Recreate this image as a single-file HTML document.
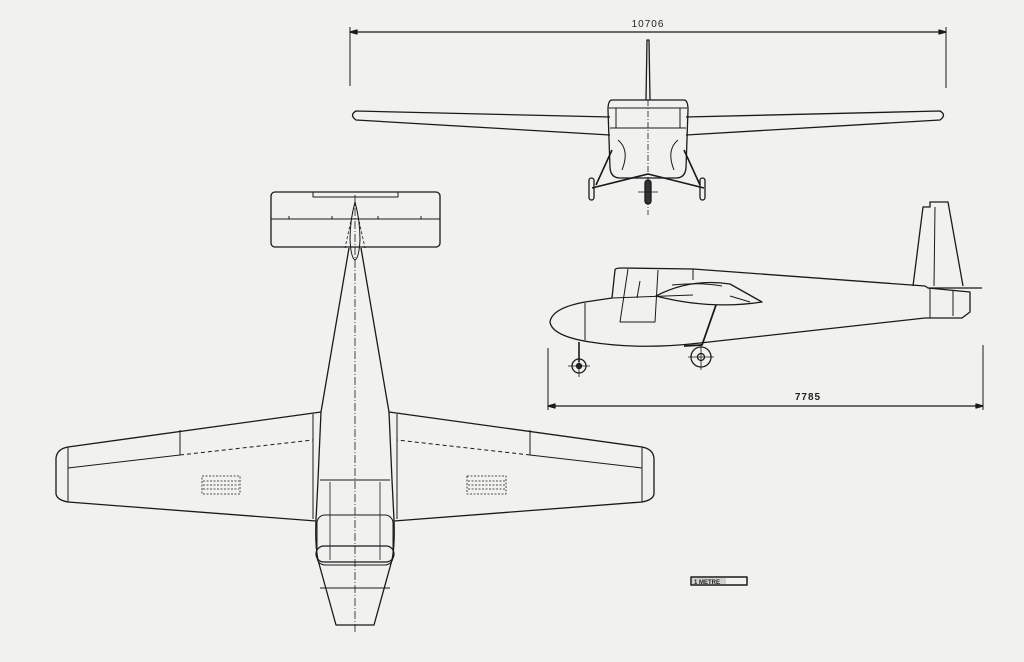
<!DOCTYPE html>
<html><head><meta charset="utf-8"><style>
html,body{margin:0;padding:0;background:#f1f1ef;}
svg{display:block;}
text{font-family:"Liberation Sans",sans-serif;fill:#222;}
</style></head><body>
<svg width="1024" height="662" viewBox="0 0 1024 662" xmlns="http://www.w3.org/2000/svg">
<rect width="1024" height="662" fill="#f1f1ef"/>
<g fill="none" stroke="#1a1a1a" stroke-width="1.3" stroke-linejoin="round">

<!-- FRONT VIEW -->
<line x1="350" y1="32" x2="946" y2="32"/>
<line x1="350" y1="27" x2="350" y2="86" stroke-width="1"/>
<line x1="946" y1="27" x2="946" y2="88" stroke-width="1"/>
<path d="M350 32 l7 -2 v4 z M946 32 l-7 -2 v4 z" fill="#1a1a1a"/>
<path d="M646 100 L647 40 L649 40 L650 100"/>
<path d="M610 117 L356 111 Q349 115 356 120 L610 135"/>
<path d="M686 117 L940 111 Q947 115 940 120 L686 135"/>
<path d="M612 100 Q608 100 608 110 L610 168 Q611 178 620 178 L676 178 Q685 178 686 168 L688 110 Q688 100 684 100 Z"/>
<line x1="609" y1="108" x2="687" y2="108" stroke-width="1"/>
<line x1="610" y1="128" x2="686" y2="128" stroke-width="1"/>
<line x1="616" y1="108" x2="616" y2="128" stroke-width="1"/>
<line x1="680" y1="108" x2="680" y2="128" stroke-width="1"/>
<path d="M618 140 Q630 150 622 170 M678 140 Q666 150 674 170" stroke-width="1"/>
<line x1="648" y1="100" x2="648" y2="215" stroke-width="0.8" stroke-dasharray="6 2 1 2"/>
<path d="M612 150 L596 185 M684 150 L700 185 M592 188 L648 174 L704 188" stroke-width="1.6"/>
<rect x="589" y="178" width="5" height="22" rx="2.5"/>
<rect x="700" y="178" width="5" height="22" rx="2.5"/>
<rect x="645" y="180" width="6" height="24" rx="3" fill="#333"/>
<path d="M638 192 h20" stroke-width="0.8"/>

<!-- SIDE VIEW -->
<path d="M615 270 Q615 268 622 268 L693 269 L925 286 L928 288 L970 292 L970 312 L962 318 L925 318 L700 343 Q640 350 590 342 Q552 336 550 322 Q552 308 585 302 L612 298 Z"/>
<line x1="585" y1="303" x2="585" y2="340" stroke-width="1"/>
<line x1="612" y1="298" x2="693" y2="295" stroke-width="1"/>
<path d="M628 269 L620 322 L655 322 L658 270" stroke-width="1"/>
<line x1="640" y1="281" x2="637" y2="298" stroke-width="1"/>
<line x1="693" y1="269" x2="693" y2="280" stroke-width="1"/>
<path d="M656 296 Q690 278 730 284 L762 302 Q710 310 656 296 Z"/>
<path d="M672 285 Q700 282 722 286 M730 296 L750 302" stroke-width="1"/>
<!-- fin -->
<path d="M913 286 L923 207 L930 207 L930 202 L948 202 L963 286"/>
<line x1="935" y1="207" x2="934" y2="286" stroke-width="1"/>
<line x1="928" y1="288" x2="982" y2="288"/>
<line x1="930" y1="288" x2="930" y2="318" stroke-width="1"/>
<line x1="953" y1="290" x2="953" y2="316" stroke-width="1"/>
<path d="M716 305 L702 345 L684 346" stroke-width="1.8"/>
<circle cx="701" cy="357" r="10"/>
<circle cx="701" cy="357" r="3.5"/>
<path d="M688 357 h26 M701 344 v26" stroke-width="0.8"/>
<line x1="579" y1="342" x2="579" y2="362" stroke-width="1.6"/>
<circle cx="579" cy="366" r="7"/>
<circle cx="579" cy="366" r="2.5" fill="#333"/>
<path d="M568 366 h22 M579 355 v22" stroke-width="0.8"/>
<line x1="548" y1="406" x2="983" y2="406"/>
<line x1="548" y1="348" x2="548" y2="410" stroke-width="1"/>
<line x1="983" y1="345" x2="983" y2="410" stroke-width="1"/>
<path d="M548 406 l7 -2 v4 z M983 406 l-7 -2 v4 z" fill="#1a1a1a"/>

<!-- TOP VIEW -->
<rect x="271" y="192" width="169" height="55" rx="4"/>
<rect x="313" y="192" width="85" height="5" stroke-width="1"/>
<line x1="271" y1="219" x2="440" y2="219" stroke-width="1"/>
<path d="M289 219 v-3 M332 219 v-3 M378 219 v-3 M421 219 v-3" stroke-width="1"/>
<path d="M355 202 Q350 220 350 240 Q351 258 355 260 Q359 258 360 240 Q360 220 355 202 Z" stroke-width="1"/>
<path d="M355 202 L345 248 M355 202 L365 248" stroke-width="0.8" stroke-dasharray="3 2"/>
<path d="M349 248 L321 412 L318 480 L316 520 Q315 545 318 560 L336 625 L374 625 L392 560 Q395 545 394 520 L392 480 L389 412 L361 248"/>
<line x1="320" y1="480" x2="390" y2="480" stroke-width="1"/>
<line x1="320" y1="588" x2="390" y2="588" stroke-width="1"/>
<rect x="317" y="515" width="76" height="50" rx="8" stroke-width="1"/>
<rect x="316" y="546" width="78" height="16" rx="8" stroke-width="1.2"/>
<path d="M330 482 V560 M380 482 V560" stroke-width="0.8"/>
<line x1="355" y1="195" x2="355" y2="632" stroke-width="0.8" stroke-dasharray="8 2 1 2"/>
<path d="M321 412 L68 447 Q57 449 56 458 L56 494 Q57 500 68 502 L316 521"/>
<path d="M389 412 L642 447 Q653 449 654 458 L654 494 Q653 500 642 502 L394 521"/>
<path d="M68 447 V502 M642 447 V502" stroke-width="1"/>
<path d="M180 430 V455 L68 468 V464" stroke-width="1"/>
<path d="M530 430 V455 L642 468 V464" stroke-width="1"/>
<path d="M180 455 L313 440 M530 455 L397 440" stroke-width="1" stroke-dasharray="4 3"/>
<path d="M313 414 V519 M397 414 V519" stroke-width="1"/>
<g stroke-width="0.8" stroke-dasharray="2 1.5">
<rect x="202" y="476" width="38" height="18"/>
<path d="M203 481 h36 M203 485 h36 M203 489 h36"/>
<rect x="467" y="476" width="39" height="18"/>
<path d="M468 481 h37 M468 485 h37 M468 489 h37"/>
</g>
<rect x="691" y="577" width="56" height="8" stroke-width="1.5"/>
<rect x="692" y="578" width="34" height="6" fill="#1a1a1a" stroke="none" opacity="0.15"/>
</g>
<text x="648" y="27" font-size="10" text-anchor="middle" letter-spacing="1">10706</text>
<text x="808" y="400" font-size="10" text-anchor="middle" font-weight="bold" letter-spacing="1">7785</text>
<text x="694" y="584" font-size="6" font-weight="bold">1 METRE</text>
</svg>
</body></html>
